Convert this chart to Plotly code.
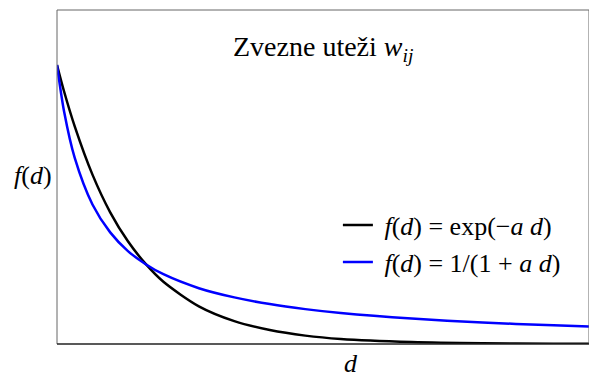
import plotly.graph_objects as go

# Distance samples and the two weight curves read at those distances
d_values = [0, 0.1, 0.25, 0.5, 0.75, 1.0, 1.25, 1.5, 2.0, 2.5, 3.0, 3.5, 4.0, 5.0, 6.0, 7.0, 7.5]
f_exp = [1.0, 0.905, 0.78, 0.607, 0.472, 0.368, 0.287, 0.223, 0.135, 0.082, 0.05, 0.03, 0.018, 0.007, 0.0025, 0.001, 0.0006]
f_rat = [1.0, 0.833, 0.667, 0.5, 0.4, 0.333, 0.286, 0.25, 0.2, 0.167, 0.143, 0.125, 0.111, 0.091, 0.077, 0.067, 0.0625]

label_exp = "\u00a0<i>f</i>(<i>d</i>) = exp(\u2212<i>a d</i>)"
label_rat = "\u00a0<i>f</i>(<i>d</i>) = 1/(1 + <i>a d</i>)"
title_text = "Zvezne uteži <i>w</i><sub><i>ij</i></sub>"

SERIF = "Liberation Serif"

fig = go.Figure()
fig.add_trace(go.Scatter(
    x=d_values, y=f_exp, mode="lines", name=label_exp,
    line=dict(color="black", width=2.5, shape="spline", smoothing=0.8),
    legendgroup="a",
))
fig.add_trace(go.Scatter(
    x=d_values, y=f_rat, mode="lines", name=label_rat,
    line=dict(color="#0000ff", width=2.5, shape="spline", smoothing=0.8),
    legendgroup="b",
))

# Frame around the plotting area
fig.add_shape(type="rect", xref="paper", yref="paper", x0=0, y0=0, x1=1, y1=1,
              line=dict(color="#666666", width=1), layer="above")
fig.add_shape(type="line", xref="paper", yref="paper", x0=0, y0=0, x1=1, y1=0,
              line=dict(color="black", width=1.2), layer="above")

fig.add_annotation(text=title_text, xref="paper", yref="paper", x=0.5, y=0.885,
                   showarrow=False, xanchor="center", yanchor="middle",
                   font=dict(family=SERIF, size=28, color="black"))
fig.add_annotation(text="<i>f</i>(<i>d</i>)", xref="paper", yref="paper", x=-0.005, y=0.505,
                   showarrow=False, xanchor="right", yanchor="middle",
                   font=dict(family=SERIF, size=26, color="black"))
fig.add_annotation(text="<i>d</i>", xref="paper", yref="paper", x=0.553, y=-0.057,
                   showarrow=False, xanchor="center", yanchor="middle",
                   font=dict(family=SERIF, size=26, color="black"))

fig.update_layout(
    width=589, height=377,
    margin=dict(l=57, r=0, t=10, b=33),
    paper_bgcolor="white", plot_bgcolor="white",
    font=dict(family=SERIF),
    xaxis=dict(range=[0, 7.5], showgrid=False, zeroline=False, showticklabels=False,
               ticks="", showline=False),
    yaxis=dict(range=[0, 1.197], showgrid=False, zeroline=False, showticklabels=False,
               ticks="", showline=False),
    showlegend=True,
    legend=dict(x=0.528, y=0.426, xanchor="left", yanchor="top",
                bgcolor="rgba(0,0,0,0)", tracegroupgap=0,
                font=dict(family=SERIF, size=26, color="black")),
)

fig.write_html("out.html")
